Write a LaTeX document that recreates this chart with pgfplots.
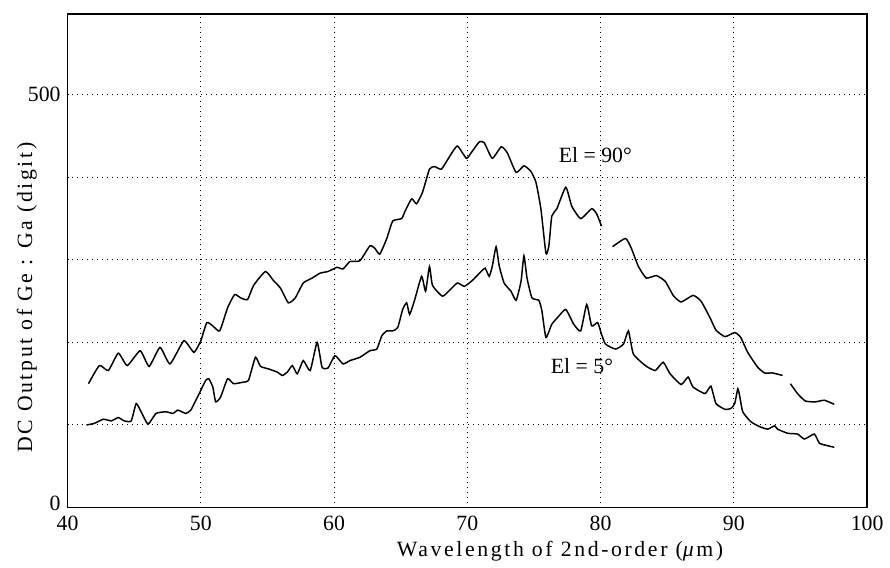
\documentclass[border=0pt]{standalone}
\usepackage{pgfplots}
\pgfplotsset{compat=1.18}
\usepackage{fontspec}
\setmainfont{Liberation Serif}
\newfontfamily\spaced[LetterSpace=12]{Liberation Serif}

\pgfplotstableread{
x y
41.57 150
42.39 172
43.06 166
43.81 187
44.48 172
45.45 190
46.12 171
46.94 194
47.69 174
48.73 202
49.48 188
50.00 202
50.45 224
50.90 220
51.42 214
52.01 242
52.54 258
52.99 254
53.51 252
53.96 269
54.85 286
55.45 275
55.97 266
56.57 248
57.09 254
57.69 272
58.36 278
58.96 284
59.55 286
60.22 291
60.67 289
61.19 298
61.94 299
62.69 317
63.06 314
63.43 307
63.96 326
64.40 347
65.07 350
65.30 358
65.82 374
66.19 368
66.64 382
67.16 410
67.54 413
68.06 410
68.66 425
69.25 438
69.93 423
70.30 430
70.90 443
71.27 442
71.87 423
72.54 437
72.99 430
73.66 406
74.25 414
74.78 407
75.15 394
75.52 362
75.90 308
76.12 317
76.34 353
76.72 362
77.39 388
77.84 365
78.51 350
79.33 362
79.70 356
80.07 341
80.50 nan
80.90 316
81.87 326
82.31 314
82.84 292
83.43 278
84.18 281
84.85 274
85.45 257
86.04 249
86.94 257
87.54 250
88.21 230
88.66 215
89.33 207
90.07 212
90.52 206
91.04 188
91.79 170
92.31 163
92.91 163
93.66 160
94.00 nan
94.25 150
94.78 138
95.37 129
96.12 128
96.79 130
97.54 125
}\upperdata

\pgfplotstableread{
x y
41.42 100
42.01 102
42.69 107
43.28 105
43.81 109
44.25 105
44.78 105
45.15 126
45.52 116
46.04 101
46.64 114
47.39 116
47.91 114
48.28 118
48.88 114
49.25 118
49.63 130
50.00 142
50.37 154
50.60 156
50.90 146
51.12 128
51.49 134
52.01 156
52.46 150
53.21 152
53.58 154
54.10 182
54.48 171
55.07 168
55.75 164
56.12 160
56.49 164
56.87 172
57.24 162
57.69 178
58.21 166
58.73 200
59.10 170
59.55 169
60.07 184
60.67 174
61.19 178
61.94 182
62.69 190
63.21 192
63.58 208
63.96 214
64.40 214
64.78 218
65.15 240
65.45 248
65.67 234
66.04 251
66.57 280
66.87 262
67.16 292
67.39 269
68.13 256
68.66 263
69.25 272
69.78 268
70.37 275
71.04 286
71.34 290
71.64 280
71.87 292
72.16 316
72.39 293
72.76 272
73.28 262
73.66 251
74.03 274
74.25 305
74.48 278
74.85 254
75.37 251
75.60 238
75.90 206
76.34 222
76.87 232
77.39 240
77.99 222
78.51 214
78.96 246
79.33 220
79.78 224
80.07 210
80.37 198
81.12 192
81.72 198
82.09 214
82.46 186
83.36 172
84.10 166
84.70 176
85.22 162
86.04 149
86.57 158
86.94 146
87.84 138
88.28 147
88.66 126
89.33 119
89.78 120
90.07 126
90.30 144
90.45 134
90.67 116
91.27 104
91.94 98
92.54 95
93.06 99
93.28 95
94.03 90
94.78 89
95.30 83
96.04 89
96.42 78
97.01 75
97.54 73
}\lowerdata

\begin{document}
\begin{tikzpicture}[font=\fontsize{11}{13}\selectfont]
\begin{axis}[
  scale only axis,
  width=402.5bp, height=248.5bp,
  xmin=40, xmax=100, ymin=0, ymax=598,
  xtick={40,50,...,100},
  ytick={0,100,...,500},
  yticklabels={\raisebox{4bp}{0},,,,,500},
  major tick length=0pt,
  grid=major,
  grid style={black, line width=0.5pt, dotted},
  axis line style={black, line width=0.9pt},
  /pgf/number format/assume math mode=true,
  xticklabel style={yshift=-0.5bp},
  xlabel={\spaced Wavelength of 2nd-order (\textit{μ}m)},
  ylabel={\spaced DC Output of Ge : Ga (digit)},
  xlabel style={at={(axis description cs:0.616,0)}, anchor=center, yshift=-22bp},
  ylabel style={at={(axis description cs:-0.051,0.425)}, anchor=center},
  unbounded coords=jump,
  clip=false,
]
\addplot[black, line width=0.75pt, smooth, tension=0.3] table {\upperdata};
\addplot[black, line width=0.75pt, smooth, tension=0.3] table {\lowerdata};
\node[anchor=center] at (axis cs:79.6,427) {El = 90°};
\node[anchor=center] at (axis cs:78.6,172) {El = 5°};
\coordinate (tr) at (rel axis cs:1,1);
\coordinate (bl) at (rel axis cs:0,0);
\end{axis}
\path (tr) ++(8.5bp,7bp);
\path (bl) ++(-34bp,-29bp);
\end{tikzpicture}
\end{document}
